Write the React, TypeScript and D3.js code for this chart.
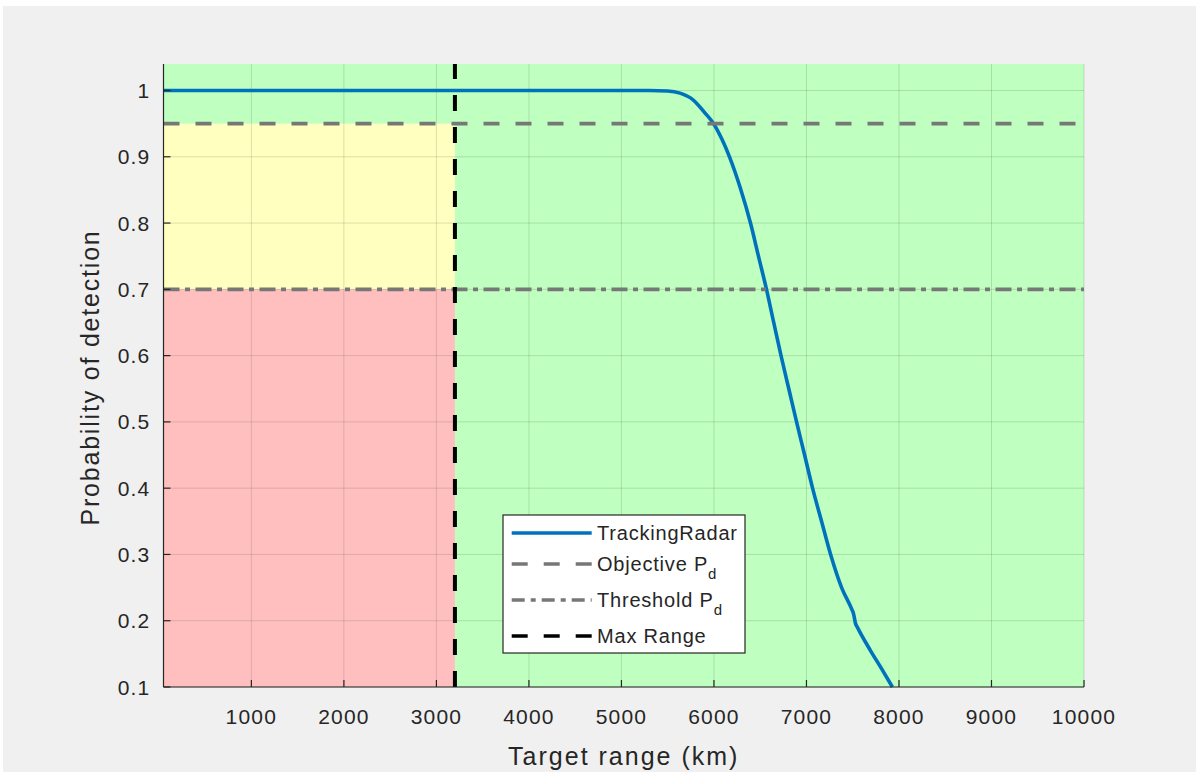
import React from "react";
import * as d3 from "d3";

const rangeKm = [50, 2000, 4000, 5000, 5300, 5500, 5633, 5774, 5904, 5991, 6088, 6168, 6285, 6395, 6483, 6568, 6646, 6725, 6809, 6893, 6980, 7066, 7163, 7261, 7380, 7494, 7508, 7530, 7551, 7692, 7810, 7929];
const pdTracking = [1, 1, 1, 1, 1, 0.9993, 0.996, 0.986, 0.966, 0.951, 0.926, 0.9, 0.853, 0.8, 0.749, 0.7, 0.65, 0.6, 0.55, 0.5, 0.45, 0.4, 0.35, 0.3, 0.25, 0.216, 0.211, 0.196, 0.19, 0.155, 0.128, 0.1];

const objectivePd = 0.95;
const thresholdPd = 0.7;
const maxRangeKm = 3200;

const xTicks = [1000, 2000, 3000, 4000, 5000, 6000, 7000, 8000, 9000, 10000];
const yTicks = [0.1, 0.2, 0.3, 0.4, 0.5, 0.6, 0.7, 0.8, 0.9, 1];
const xDomain = [50, 10000];
const yDomain = [0.1, 1.04];

const legendLabels = ["TrackingRadar", "Objective P", "Threshold P", "Max Range"];

const FONT = "'Liberation Sans', Arial, Helvetica, sans-serif";
const AXC = "#262626";

export default function App() {
  const L = 163.5, R = 1084, T = 64, B = 687;
  const x = d3.scaleLinear().domain(xDomain).range([L, R]);
  const y = d3.scaleLinear().domain(yDomain).range([B, T]);

  const pts = rangeKm.map((r, i) => [r, pdTracking[i]] as [number, number]);
  const line = d3
    .line<[number, number]>()
    .x((d) => x(d[0]))
    .y((d) => y(d[1]))
    .curve(d3.curveMonotoneX);

  const xm = x(maxRangeKm);
  const yObj = y(objectivePd);
  const yThr = y(thresholdPd);

  const legX = 503, legY = 515, legW = 242, legH = 138;
  const rowsY = [533, 564, 600, 636];
  const sampleX0 = 511.7, sampleX1 = 591.7, textX = 597;

  return (
    <svg
      width={1196}
      height={772}
      style={{ position: "absolute", left: 0, top: 0, display: "block" }}
      fontFamily={FONT}
    >
      <rect x={0} y={0} width={1196} height={772} fill="#ffffff" />
      <rect x={3} y={6} width={1193} height={766} fill="#f0f0f0" />

      {/* regions */}
      <rect x={L} y={T} width={R - L} height={B - T} fill="#bfffbf" />
      <rect x={L} y={yObj} width={xm - L} height={yThr - yObj} fill="#ffffbf" />
      <rect x={L} y={yThr} width={xm - L} height={B - yThr} fill="#ffbfbf" />

      {/* grid */}
      <g stroke={AXC} strokeOpacity={0.15} strokeWidth={1}>
        {xTicks.map((t) => (
          <line key={"gx" + t} x1={x(t)} x2={x(t)} y1={T} y2={B} />
        ))}
        {yTicks.map((t) => (
          <line key={"gy" + t} x1={L} x2={R} y1={y(t)} y2={y(t)} />
        ))}
      </g>

      {/* data */}
      <path d={line(pts) || ""} fill="none" stroke="#0072BD" strokeWidth={3.6} strokeLinejoin="round" />
      <line x1={L} x2={R} y1={yObj} y2={yObj} stroke="#777777" strokeWidth={3.6} strokeDasharray="16,16" />
      <line x1={L} x2={R} y1={yThr} y2={yThr} stroke="#777777" strokeWidth={3.6} strokeDasharray="16,5.5,5,5.5" />
      <clipPath id="plotclip">
        <rect x={L} y={T} width={R - L} height={B - T} />
      </clipPath>
      <line x1={xm} x2={xm} y1={B} y2={T - 10} stroke="#000000" strokeWidth={4} strokeDasharray="16,16" clipPath="url(#plotclip)" />

      {/* axes */}
      <g stroke={AXC} strokeWidth={1.2} fill="none">
        <line x1={L} x2={L} y1={T} y2={B} />
        <line x1={L} x2={R} y1={B} y2={B} />
        {xTicks.map((t) => (
          <line key={"tx" + t} x1={x(t)} x2={x(t)} y1={B} y2={B - 7} />
        ))}
        {yTicks.map((t) => (
          <line key={"ty" + t} x1={L} x2={L + 7} y1={y(t)} y2={y(t)} />
        ))}
      </g>
      <g fill={AXC} fontSize={21} style={{ letterSpacing: "1.2px" }}>
        {xTicks.map((t) => (
          <text key={"lx" + t} x={x(t)} y={B + 37} textAnchor="middle">
            {String(t)}
          </text>
        ))}
        {yTicks.map((t) => (
          <text key={"ly" + t} x={L - 13} y={y(t)} dy="0.36em" textAnchor="end">
            {String(t)}
          </text>
        ))}
      </g>
      <text x={(L + R) / 2} y={765} textAnchor="middle" fontSize={25} fill={AXC} style={{ letterSpacing: "2px" }}>
        Target range (km)
      </text>
      <text
        transform={`translate(99, ${(T + B) / 2 + 2}) rotate(-90)`}
        textAnchor="middle"
        fontSize={25}
        fill={AXC}
        style={{ letterSpacing: "1.8px" }}
      >
        Probability of detection
      </text>

      {/* legend */}
      <rect x={legX} y={legY} width={legW} height={legH} fill="#ffffff" stroke={AXC} strokeWidth={1.2} />
      <line x1={sampleX0} x2={sampleX1} y1={rowsY[0]} y2={rowsY[0]} stroke="#0072BD" strokeWidth={3.6} />
      <line x1={sampleX0} x2={sampleX1} y1={rowsY[1]} y2={rowsY[1]} stroke="#777777" strokeWidth={3.6} strokeDasharray="16,16" />
      <line x1={sampleX0} x2={sampleX1} y1={rowsY[2]} y2={rowsY[2]} stroke="#777777" strokeWidth={3.6} strokeDasharray="13,6,5,6" />
      <line x1={sampleX0} x2={sampleX1} y1={rowsY[3]} y2={rowsY[3]} stroke="#000000" strokeWidth={3.6} strokeDasharray="16,16" />
      <g fill={AXC} fontSize={20} style={{ letterSpacing: "0.8px" }}>
        <text x={textX} y={rowsY[0]} dy="0.36em">{legendLabels[0]}</text>
        <text x={textX} y={rowsY[1]} dy="0.36em">
          {legendLabels[1]}
          <tspan fontSize={15} dy="8">d</tspan>
        </text>
        <text x={textX} y={rowsY[2]} dy="0.36em">
          {legendLabels[2]}
          <tspan fontSize={15} dy="8">d</tspan>
        </text>
        <text x={textX} y={rowsY[3]} dy="0.36em">{legendLabels[3]}</text>
      </g>
    </svg>
  );
}
